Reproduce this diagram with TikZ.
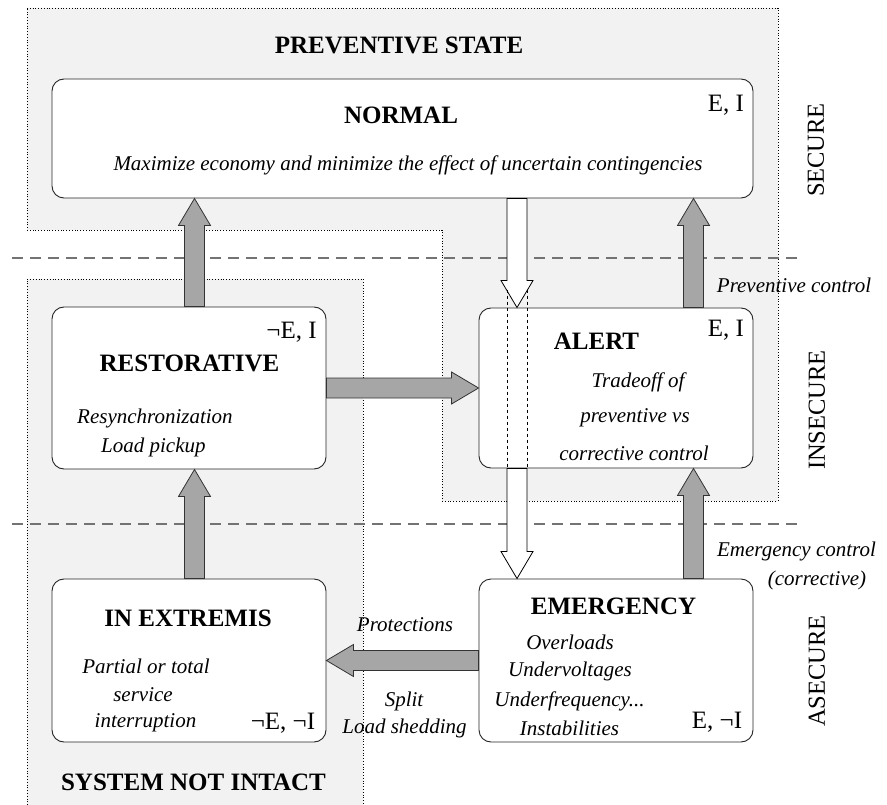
\documentclass[tikz,border=0pt]{standalone}
\usepackage{fontspec}
\setmainfont{Liberation Serif}[BoldFont={Liberation Serif Bold}, ItalicFont={Liberation Serif Italic}, BoldItalicFont={Liberation Serif Bold Italic}]
\usetikzlibrary{calc}

\tikzset{
  statebox/.style={draw=black!85, fill=white, rounded corners=12pt, line width=0.9pt},
  zone/.style={fill=black!5, draw=black, dotted, line width=0.8pt},
  level/.style={draw=black!55, dash pattern=on 11pt off 7pt, line width=1.2pt},
  ctrl/.style={fill=black!35, draw=black!80, line width=0.8pt},
  openarrow/.style={fill=white, draw=black, line width=0.8pt},
  title/.style={inner sep=0pt, font=\fontsize{25}{30}\selectfont\bfseries},
  note/.style={inner sep=0pt, font=\fontsize{21}{25}\selectfont\itshape},
  tag/.style={inner sep=0pt, font=\fontsize{25}{30}\selectfont},
  side/.style={inner sep=0pt, rotate=90, font=\fontsize{24.5}{30}\selectfont}
}

% block arrow from #2 to #3
\newcommand{\bigarrow}[3]{%
  \coordinate (ba-s) at #2; \coordinate (ba-e) at #3;
  \coordinate (ba-h) at ($(ba-e)!27pt!(ba-s)$);
  \draw[#1] ($(ba-s)!10pt!90:(ba-e)$) -- ($(ba-h)!10pt!-90:(ba-s)$) -- ($(ba-h)!16pt!-90:(ba-s)$)
    -- (ba-e) -- ($(ba-h)!16pt!90:(ba-s)$) -- ($(ba-h)!10pt!90:(ba-s)$) -- ($(ba-s)!10pt!-90:(ba-e)$) -- cycle;}

\begin{document}
\begin{tikzpicture}[x=1pt, y=-1pt]
\useasboundingbox (0,0) rectangle (887,805);
% zones
\draw[zone] (27,8) -- (778,8) -- (778,501) -- (442,501) -- (442,230) -- (27,230) -- cycle;
\draw[zone] (27,805) -- (27,279) -- (363,279) -- (363,805);
\draw[level] (12,258) -- (800,258);
\draw[level] (12,524) -- (800,524);

% states
\node[statebox, minimum width=701pt, minimum height=119pt] (normal) at (402.5,138.5) {};
\node[statebox, minimum width=274pt, minimum height=162pt] (rest) at (189,388) {};
\node[statebox, minimum width=274pt, minimum height=160pt] (alert) at (616,388) {};
\node[statebox, minimum width=274pt, minimum height=163pt] (inext) at (189,660.5) {};
\node[statebox, minimum width=274pt, minimum height=163pt] (emerg) at (616,660.5) {};

\coordinate (colL) at (194.5,0);
\coordinate (colW) at (517,0);
\coordinate (colR) at (693.5,0);

% transitions
\bigarrow{ctrl}{(rest.north -| colL)}{(normal.south -| colL)}
\bigarrow{ctrl}{(inext.north -| colL)}{(rest.south -| colL)}
\bigarrow{ctrl}{(alert.north -| colR)}{(normal.south -| colR)}
\bigarrow{ctrl}{(emerg.north -| colR)}{(alert.south -| colR)}
\bigarrow{ctrl}{(rest.east)}{(alert.west)}
\bigarrow{ctrl}{(emerg.west)}{(inext.east)}
\bigarrow{openarrow}{(normal.south -| colW)}{(alert.north -| colW)}
\bigarrow{openarrow}{(alert.south -| colW)}{(emerg.north -| colW)}
\draw[dashed, line width=0.8pt] ($(alert.north -| colW)+(-10,-18)$) -- ($(alert.south -| colW)+(-10,0)$);
\draw[dashed, line width=0.8pt] ($(alert.north -| colW)+(10,-18)$) -- ($(alert.south -| colW)+(10,0)$);

% labels
\node[title] (prevstate) at (399,45) {PREVENTIVE STATE};
\node[title] (nottitle) at (193.5,782) {SYSTEM NOT INTACT};
\node[side] (secure) at (816,150) {SECURE};
\node[side] (insecure) at (817,410) {INSECURE};
\node[side] (asecure) at (817,671) {ASECURE};

\node[title] (normaltitle) at (401,115) {NORMAL};
\node[note] (normaltext) at (408,165) {Maximize economy and minimize the effect of uncertain contingencies};
\node[tag] (normaltag) at (726,105) {E, I};

\node[title] (resttitle) at (189.5,363) {RESTORATIVE};
\node[note, anchor=west] (resttext1) at (77,418) {Resynchronization};
\node[note, anchor=west] (resttext2) at (101,447) {Load pickup};
\node[tag] (resttag) at (291.5,332) {¬E, I};

\node[title] (alerttitle) at (596.5,341) {ALERT};
\node[note] (alerttext1) at (638,382) {Tradeoff of};
\node[note] (alerttext2) at (635,418) {preventive vs};
\node[note] (alerttext3) at (634,453) {corrective control};
\node[tag] (alerttag) at (726,330) {E, I};

\node[title] (inexttitle) at (188,618) {IN EXTREMIS};
\node[note] (inexttext1) at (146,666) {Partial or total};
\node[note] (inexttext2) at (143,695) {service};
\node[note] (inexttext3) at (145.5,723) {interruption};
\node[tag] (inexttag) at (283,723) {¬E, ¬I};

\node[title] (emergtitle) at (613.5,606) {EMERGENCY};
\node[note] (emergtext1) at (570,642) {Overloads};
\node[note] (emergtext2) at (570,671) {Undervoltages};
\node[note] (emergtext3) at (569.5,701) {Underfrequency...};
\node[note] (emergtext4) at (569.5,728) {Instabilities};
\node[tag] (emergtag) at (717,722) {E, ¬I};

\node[note] (prevctrl) at (794,285) {Preventive control};
\node[note] (emctrl1) at (796.5,551) {Emergency control};
\node[note] (emctrl2) at (817,580) {(corrective)};
\node[note] (protect) at (405,625) {Protections};
\node[note] (split) at (404,701) {Split};
\node[note] (shed) at (404.5,728) {Load shedding};
\end{tikzpicture}
\end{document}
